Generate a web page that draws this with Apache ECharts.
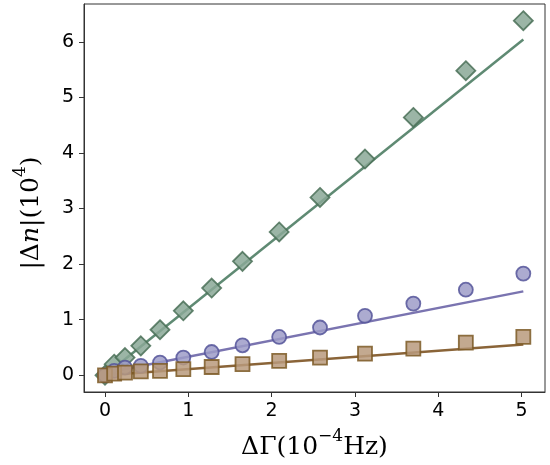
<!DOCTYPE html>
<html>
<head>
<meta charset="utf-8">
<script src="https://cdn.jsdelivr.net/npm/echarts@6/dist/echarts.min.js"></script>
<style>
  html, body { margin: 0; padding: 0; background: #fff; }
  #chart { width: 550px; height: 465px; }
</style>
</head>
<body>
<div id="chart"></div>
<script>
// x positions (10^-4 Hz), shared by all three series
const xVals = [0, 0.11, 0.24, 0.43, 0.66, 0.94, 1.28, 1.65, 2.09, 2.58, 3.12, 3.70, 4.33, 5.02];
// |Δn| (10^4)
const greenVals = [0, 0.2, 0.32, 0.53, 0.82, 1.16, 1.57, 2.05, 2.58, 3.2, 3.89, 4.64, 5.48, 6.38];
const purpleVals = [0, 0.08, 0.14, 0.17, 0.23, 0.32, 0.42, 0.54, 0.69, 0.86, 1.07, 1.29, 1.54, 1.83];
const brownVals = [0, 0.03, 0.05, 0.07, 0.08, 0.11, 0.15, 0.2, 0.26, 0.32, 0.39, 0.48, 0.59, 0.69];
// fitted lines, end points
const greenFit = [[0, 0], [5.02, 6.04]];
const purpleFit = [[0, 0.04], [5.02, 1.51]];
const brownFit = [[0, 0], [5.02, 0.555]];
// tick labels
const xTicks = [0, 1, 2, 3, 4, 5];
const yTicks = [0, 1, 2, 3, 4, 5, 6];

function pairs(xs, ys) {
  return xs.map((x, i) => [x, ys[i]]);
}

const chart = echarts.init(document.getElementById('chart'));

const tickFont = { fontFamily: 'DejaVu Sans', fontSize: 19, color: '#000' };
const nameFont = 'DejaVu Serif';

function fitLine(data, color) {
  return {
    type: 'line',
    data: data,
    symbol: 'none',
    lineStyle: { color: color, width: 2.5 },
    silent: true,
    z: 2
  };
}

function markers(data, symbol, size, fill, edge) {
  return {
    type: 'scatter',
    data: data,
    symbol: symbol,
    symbolSize: size,
    itemStyle: { color: fill, borderColor: edge, borderWidth: 1.8, opacity: 0.85 },
    z: 3
  };
}

chart.setOption({
  animation: false,
  grid: {
    left: 84, right: 5, top: 4, bottom: 70,
    show: true, borderColor: '#333', borderWidth: 1
  },
  xAxis: {
    type: 'value',
    min: -0.252, max: 5.28,
    splitLine: { show: false },
    axisLine: { show: true, onZero: false, lineStyle: { color: '#333', width: 1 } },
    axisTick: { show: true, length: 5, lineStyle: { color: '#333' }, customValues: xTicks },
    axisLabel: Object.assign({ margin: 10, customValues: xTicks }, tickFont),
    name: '{a|ΔΓ(10}{sup|−4}{a|Hz)}',
    nameLocation: 'middle',
    nameGap: 36,
    nameTextStyle: {
      rich: {
        a: { fontFamily: nameFont, fontSize: 25, color: '#000', lineHeight: 32, verticalAlign: 'bottom' },
        sup: { fontFamily: nameFont, fontSize: 17, color: '#000', lineHeight: 32, verticalAlign: 'top' }
      }
    }
  },
  yAxis: {
    type: 'value',
    min: -0.30, max: 6.68,
    splitLine: { show: false },
    axisLine: { show: true, onZero: false, lineStyle: { color: '#333', width: 1 } },
    axisTick: { show: true, length: 5, lineStyle: { color: '#333' }, customValues: yTicks },
    axisLabel: Object.assign({ margin: 10, customValues: yTicks }, tickFont),
    name: '{a||Δ}{i|n}{a||(10}{sup|4}{a|)}',
    nameLocation: 'middle',
    nameGap: 40,
    nameTextStyle: {
      padding: [0, 30, 0, 0],
      rich: {
        a: { fontFamily: nameFont, fontSize: 25, color: '#000', lineHeight: 32, verticalAlign: 'bottom' },
        i: { fontFamily: nameFont, fontSize: 25, fontStyle: 'italic', color: '#000', lineHeight: 32, verticalAlign: 'bottom' },
        sup: { fontFamily: nameFont, fontSize: 17, color: '#000', lineHeight: 32, verticalAlign: 'top' }
      }
    }
  },
  series: [
    fitLine(greenFit, '#5f8a73'),
    fitLine(purpleFit, '#7a74b0'),
    fitLine(brownFit, '#8a6438'),
    markers(pairs(xVals, greenVals), 'diamond', 19, '#8aa896', '#4a7057'),
    markers(pairs(xVals, purpleVals), 'circle', 14, '#9d9cc8', '#55559a'),
    markers(pairs(xVals, brownVals), 'rect', 14, '#b89a7c', '#7d5a26')
  ]
});
</script>
</body>
</html>
